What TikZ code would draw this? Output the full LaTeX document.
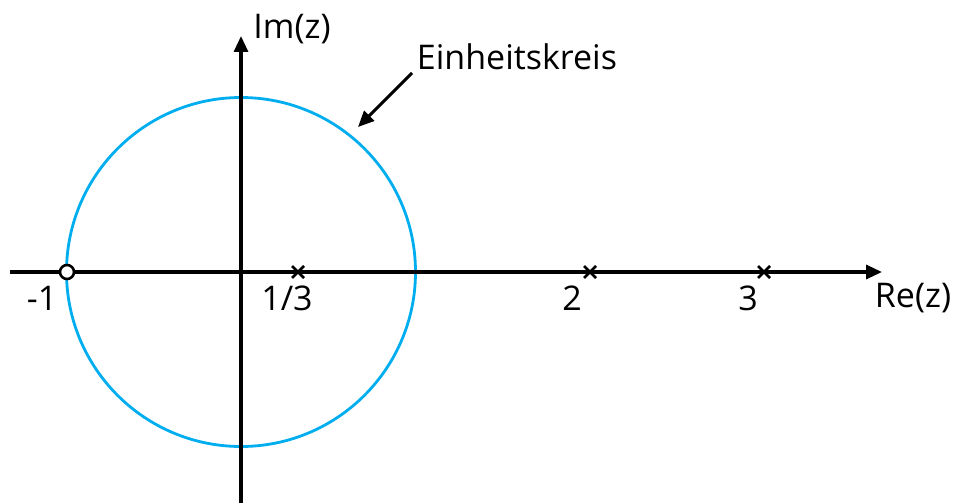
\documentclass[tikz,border=0pt]{standalone}
\usepackage{fontspec}
\setmainfont{Open Sans}
\usetikzlibrary{arrows.meta}
\definecolor{kreis}{RGB}{0,174,239}
\tikzset{
  axis/.style={line width=3.2pt, -{Triangle[length=16pt,width=14pt]}},
  lbl/.style={font=\fontsize{34}{34}\selectfont, inner sep=0pt},
  crossmark/.style={line width=2.6pt},
}
\begin{document}
\begin{tikzpicture}[x=1pt,y=-1pt]
\useasboundingbox (0,0) rectangle (957,503);
\coordinate (O) at (241,272);
\coordinate (xs) at (10,272);
\coordinate (xe) at (882,272);
\coordinate (ys) at (241,503);
\coordinate (ye) at (241,36);
\draw[kreis, line width=2.8pt] (O) circle[radius=174.5];
\draw[axis] (xs) -- (xe);
\draw[axis] (ys) -- (ye);
\foreach \x/\n in {298/a,590/b,764/c}{
  \coordinate (\n) at (\x,272);
  \draw[crossmark] ([shift={(-6,-6)}]\n) -- ([shift={(6,6)}]\n);
  \draw[crossmark] ([shift={(-6,6)}]\n) -- ([shift={(6,-6)}]\n);
}
\node[circle, draw, fill=white, line width=2.6pt, minimum size=14pt, inner sep=0pt] (pm1) at (67,272) {};
\node[lbl] (lm1) at (42,298) {-1};
\node[lbl] (l13) at (287,298) {1/3};
\node[lbl] (l2) at (572,298) {2};
\node[lbl] (l3) at (748,298) {3};
\node[lbl] (re) at (913,298) {Re(z)};
\node[lbl] (im) at (292,29) {Im(z)};
\node[lbl] (ek) at (517,57) {Einheitskreis};
\coordinate (as) at (412,73);
\coordinate (ae) at (358,127);
\draw[line width=3pt, -{Triangle[length=16pt,width=14pt]}] (as) -- (ae);
\end{tikzpicture}
\end{document}
